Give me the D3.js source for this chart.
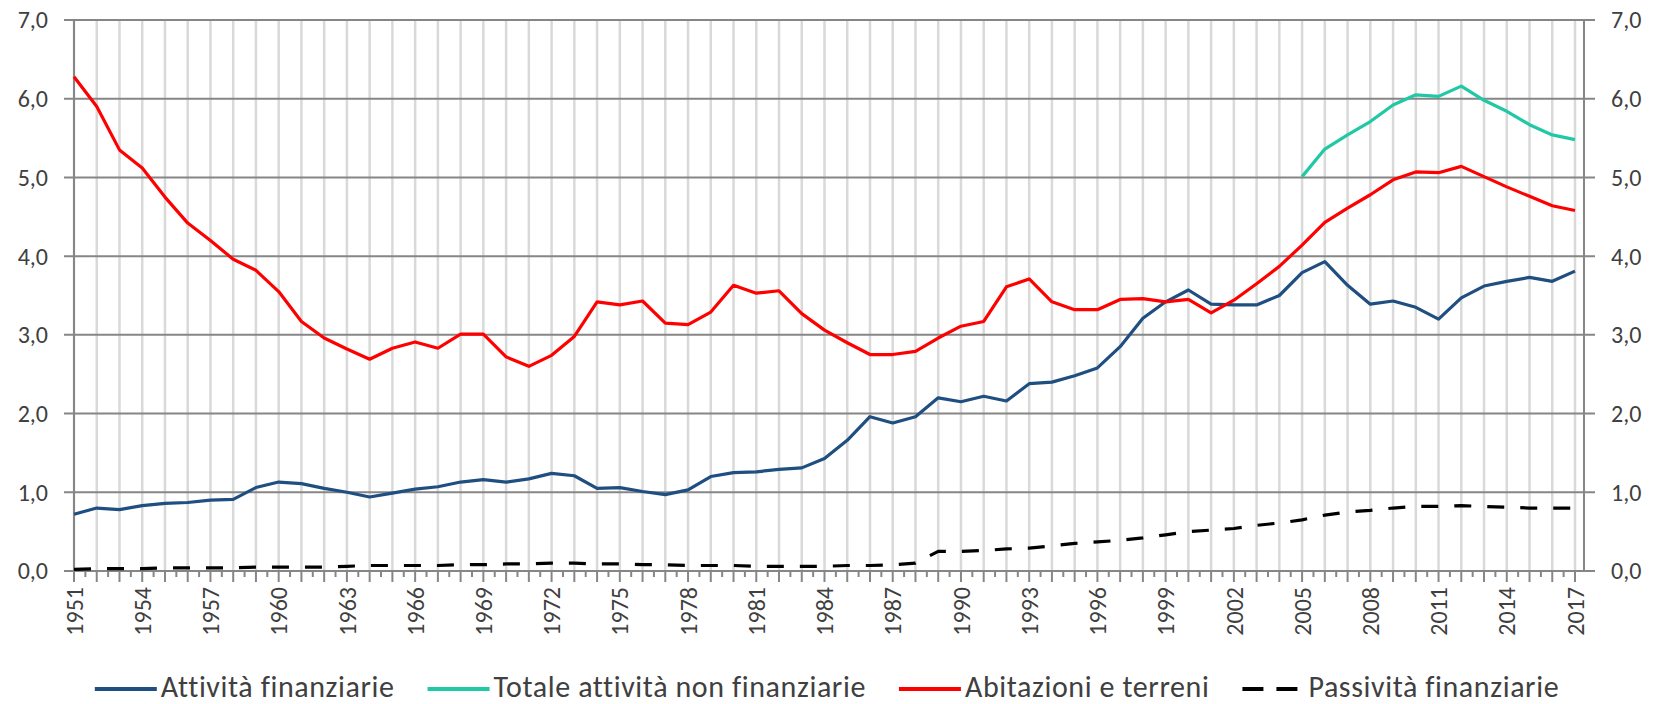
<!DOCTYPE html>
<html>
<head>
<meta charset="utf-8">
<script src="https://cdn.jsdelivr.net/npm/d3@7"></script>
<style>
	body { margin: 0; background: #fff; }
	text { font-family: Carlito, Lato, 'Noto Sans', sans-serif; fill: #404040; }
</style>
</head>
<body>
<script>
// Categories
const years = d3.range(1951, 2018)
const labelYears = years.filter((yr, i) => i % 3 === 0)
const yTicks = [0, 1, 2, 3, 4, 5, 6, 7]

// Series values
const attivitaFinanziarie = [
	0.72, 0.8, 0.78, 0.83, 0.86, 0.87, 0.9, 0.91, 1.06, 1.13,
	1.11, 1.05, 1.0, 0.94, 0.99, 1.04, 1.07, 1.13, 1.16, 1.13,
	1.17, 1.24, 1.21, 1.05, 1.06, 1.01, 0.97, 1.03, 1.2, 1.25,
	1.26, 1.29, 1.31, 1.43, 1.66, 1.96, 1.88, 1.96, 2.2, 2.15,
	2.22, 2.16, 2.38, 2.4, 2.48, 2.58, 2.85, 3.21, 3.42, 3.57,
	3.39, 3.38, 3.38, 3.5, 3.79, 3.93, 3.63, 3.39, 3.43, 3.35,
	3.2, 3.47, 3.62, 3.68, 3.73, 3.68, 3.81,
]
const abitazioniTerreni = [
	6.28, 5.9, 5.35, 5.12, 4.75, 4.42, 4.2, 3.96, 3.82, 3.55,
	3.17, 2.96, 2.82, 2.69, 2.83, 2.91, 2.83, 3.01, 3.01, 2.72,
	2.6, 2.74, 2.98, 3.42, 3.38, 3.43, 3.15, 3.13, 3.29, 3.63,
	3.53, 3.56, 3.27, 3.06, 2.9, 2.75, 2.75, 2.79, 2.96, 3.11,
	3.17, 3.61, 3.71, 3.42, 3.32, 3.32, 3.45, 3.46, 3.42, 3.45,
	3.28, 3.44, 3.65, 3.87, 4.14, 4.43, 4.61, 4.78, 4.97, 5.07,
	5.06, 5.14, 5.01, 4.88, 4.76, 4.64, 4.58,
]
const totaleYears = d3.range(2005, 2018)
const totaleNonFinanziarie = [5.01, 5.36, 5.54, 5.71, 5.92, 6.05, 6.03, 6.16, 5.98, 5.84, 5.67, 5.54, 5.48]
const passivitaFinanziarie = [
	0.02, 0.03, 0.03, 0.03, 0.04, 0.04, 0.04, 0.04, 0.05, 0.05,
	0.05, 0.05, 0.06, 0.07, 0.07, 0.07, 0.07, 0.08, 0.08, 0.09,
	0.09, 0.1, 0.1, 0.09, 0.09, 0.08, 0.08, 0.07, 0.07, 0.07,
	0.06, 0.06, 0.06, 0.06, 0.07, 0.07, 0.08, 0.1, 0.25, 0.25,
	0.26, 0.28, 0.29, 0.32, 0.35, 0.37, 0.39, 0.42, 0.46, 0.5,
	0.52, 0.54, 0.58, 0.61, 0.65, 0.71, 0.75, 0.77, 0.8, 0.82,
	0.82, 0.83, 0.82, 0.81, 0.8, 0.8, 0.8,
]

const width = 1658
const height = 704
const plotLeft = 74
const plotRight = 1584
const plotTop = 20
const plotBottom = 571

const svg = d3.select('body').append('svg').attr('width', width).attr('height', height)

const x = d3.scaleLinear().domain([1951, 2017]).range([plotLeft, 1575])
const y = d3.scaleLinear().domain([0, 7]).range([plotBottom, plotTop])

// comma decimal, italian style
const fmt = d3.formatLocale({ decimal: ',', thousands: '.', grouping: [3], currency: ['', '€'] }).format('.1f')

// vertical gridlines (light)
svg.append('g')
	.selectAll('line')
	.data(years)
	.enter()
	.append('line')
	.attr('x1', d => x(d))
	.attr('x2', d => x(d))
	.attr('y1', plotTop)
	.attr('y2', plotBottom)
	.attr('stroke', '#d9d9d9')
	.attr('stroke-width', 2.5)

// horizontal gridlines, running out as ticks on both sides
svg.append('g')
	.selectAll('line')
	.data(yTicks)
	.enter()
	.append('line')
	.attr('x1', plotLeft - 10)
	.attr('x2', plotRight + 11)
	.attr('y1', d => y(d))
	.attr('y2', d => y(d))
	.attr('stroke', '#868686')
	.attr('stroke-width', 2)

// left and right axis lines
svg.append('line').attr('x1', plotLeft).attr('x2', plotLeft).attr('y1', plotTop).attr('y2', plotBottom + 1)
	.attr('stroke', '#868686').attr('stroke-width', 2)
svg.append('line').attr('x1', plotRight).attr('x2', plotRight).attr('y1', plotTop).attr('y2', plotBottom + 1)
	.attr('stroke', '#868686').attr('stroke-width', 2)

// x ticks: long at each year, short at half years
svg.append('g')
	.selectAll('line')
	.data(years)
	.enter()
	.append('line')
	.attr('x1', d => x(d))
	.attr('x2', d => x(d))
	.attr('y1', plotBottom)
	.attr('y2', plotBottom + 11)
	.attr('stroke', '#868686')
	.attr('stroke-width', 2)
svg.append('g')
	.selectAll('line')
	.data(years.slice(0, -1))
	.enter()
	.append('line')
	.attr('x1', d => x(d + 0.5))
	.attr('x2', d => x(d + 0.5))
	.attr('y1', plotBottom)
	.attr('y2', plotBottom + 6)
	.attr('stroke', '#868686')
	.attr('stroke-width', 2)

// y labels, both sides
svg.append('g')
	.selectAll('text')
	.data(yTicks)
	.enter()
	.append('text')
	.attr('x', 48)
	.attr('y', d => y(d))
	.attr('dy', '0.35em')
	.attr('text-anchor', 'end')
	.style('font-size', '24px')
	.text(d => fmt(d))
svg.append('g')
	.selectAll('text')
	.data(yTicks)
	.enter()
	.append('text')
	.attr('x', 1611)
	.attr('y', d => y(d))
	.attr('dy', '0.35em')
	.style('font-size', '24px')
	.text(d => fmt(d))

// x labels, rotated
svg.append('g')
	.selectAll('text')
	.data(labelYears)
	.enter()
	.append('text')
	.attr('transform', d => 'translate(' + x(d) + ',' + (plotBottom + 16) + ') rotate(-90)')
	.attr('dy', '0.36em')
	.attr('text-anchor', 'end')
	.style('font-size', '24px')
	.text(d => d)

// series
const series = [
	{ name: 'Attività finanziarie', xs: years, values: attivitaFinanziarie, color: '#1f4e80', dash: null },
	{ name: 'Totale attività non finanziarie', xs: totaleYears, values: totaleNonFinanziarie, color: '#20c8a6', dash: null },
	{ name: 'Abitazioni e terreni', xs: years, values: abitazioniTerreni, color: '#ff0000', dash: null },
	{ name: 'Passività finanziarie', xs: years, values: passivitaFinanziarie, color: '#000000', dash: '17,16' },
]

const line = d3.line().x(d => x(d[0])).y(d => y(d[1]))

series.forEach(function (s) {
	svg.append('path')
		.datum(s.xs.map((yr, i) => [yr, s.values[i]]))
		.attr('d', line)
		.attr('fill', 'none')
		.attr('stroke', s.color)
		.attr('stroke-width', 3.2)
		.attr('stroke-linejoin', 'round')
		.attr('stroke-dasharray', s.dash)
})

// legend, laid out left to right then centred
const legend = svg.append('g')
let pos = 0
series.forEach(function (s) {
	const g = legend.append('g').attr('transform', 'translate(' + pos + ',0)')
	g.append('line')
		.attr('x1', 0)
		.attr('x2', 62)
		.attr('y1', 689)
		.attr('y2', 689)
		.attr('stroke', s.color)
		.attr('stroke-width', 4)
		.attr('stroke-dasharray', s.dash ? '21,13' : null)
	const t = g.append('text')
		.attr('x', 66)
		.attr('y', 697)
		.style('font-size', '30px')
		.style('letter-spacing', '0.6px')
		.text(s.name)
	pos += 66 + t.node().getComputedTextLength() + 33
})
pos -= 33
legend.attr('transform', 'translate(' + (827 - pos / 2) + ',0)')
</script>
</body>
</html>
